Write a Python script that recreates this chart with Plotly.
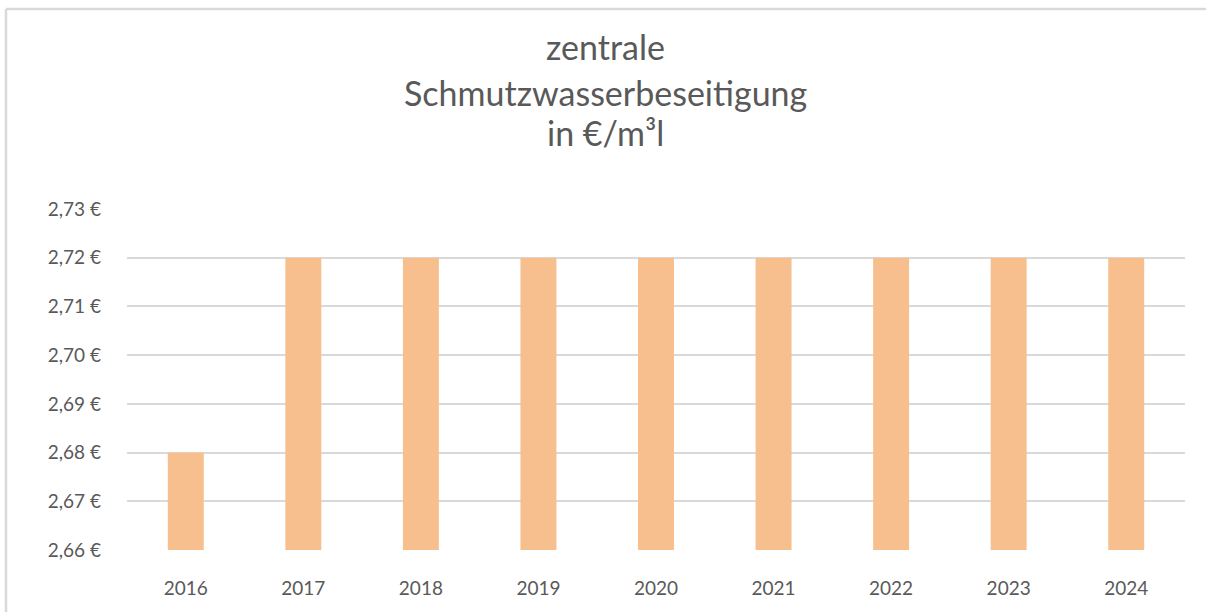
import plotly.graph_objects as go

years = ["2016", "2017", "2018", "2019", "2020", "2021", "2022", "2023", "2024"]
prices = [2.68, 2.72, 2.72, 2.72, 2.72, 2.72, 2.72, 2.72, 2.72]
y_ticks = [2.66, 2.67, 2.68, 2.69, 2.70, 2.71, 2.72, 2.73]
y_tick_text = [f"{v:.2f}".replace(".", ",") + " €" for v in y_ticks]
title_lines = ["zentrale", "Schmutzwasserbeseitigung", "in €/m³l"]

W, H = 1206, 612
L, R, T, B = 127, 21, 209, 62
plot_h = H - T - B
plot_w = W - L - R

def py(pix):
    return (H - B - pix) / plot_h

def px(pix):
    return (pix - L) / plot_w

FONT = "Lato, Open Sans, sans-serif"
GREY = "#595959"

fig = go.Figure()
fig.add_trace(go.Bar(x=years, y=prices, marker=dict(color="#F8BF8E", line=dict(width=0))))

fig.update_layout(
    width=W, height=H,
    margin=dict(l=L, r=R, t=T, b=B, autoexpand=False),
    paper_bgcolor="white", plot_bgcolor="white",
    separators=",.",
    bargap=0.694,
    showlegend=False,
    font=dict(family=FONT, color=GREY),
)
fig.update_yaxes(range=[2.66, 2.73], tickvals=y_ticks, ticktext=y_tick_text,
                 showgrid=True, gridcolor="#D9D9D9", gridwidth=1.5, zeroline=False,
                 showline=False, ticks="", ticklabelstandoff=25,
                 tickfont=dict(size=19, color=GREY, family=FONT))
fig.update_xaxes(showgrid=False, showline=False, ticks="", ticklabelstandoff=25,
                 tickfont=dict(size=19, color=GREY, family=FONT))

centers = [46, 92, 132]
for txt, c in zip(title_lines, centers):
    fig.add_annotation(text=txt, xref="paper", yref="paper", x=px(W / 2 + 2), y=py(c),
                       xanchor="center", yanchor="middle", showarrow=False,
                       font=dict(size=34, color=GREY, family=FONT))

fig.add_shape(type="line", xref="paper", yref="paper", x0=px(6), x1=px(W + 5),
              y0=py(9), y1=py(9), line=dict(color="#D9D9D9", width=2.5))
fig.add_shape(type="line", xref="paper", yref="paper", x0=px(6), x1=px(6),
              y0=py(9), y1=py(H + 5), line=dict(color="#D9D9D9", width=2.5))

fig.write_html("out.html", config={"displayModeBar": False},
               post_script="document.body.style.margin='0';")
